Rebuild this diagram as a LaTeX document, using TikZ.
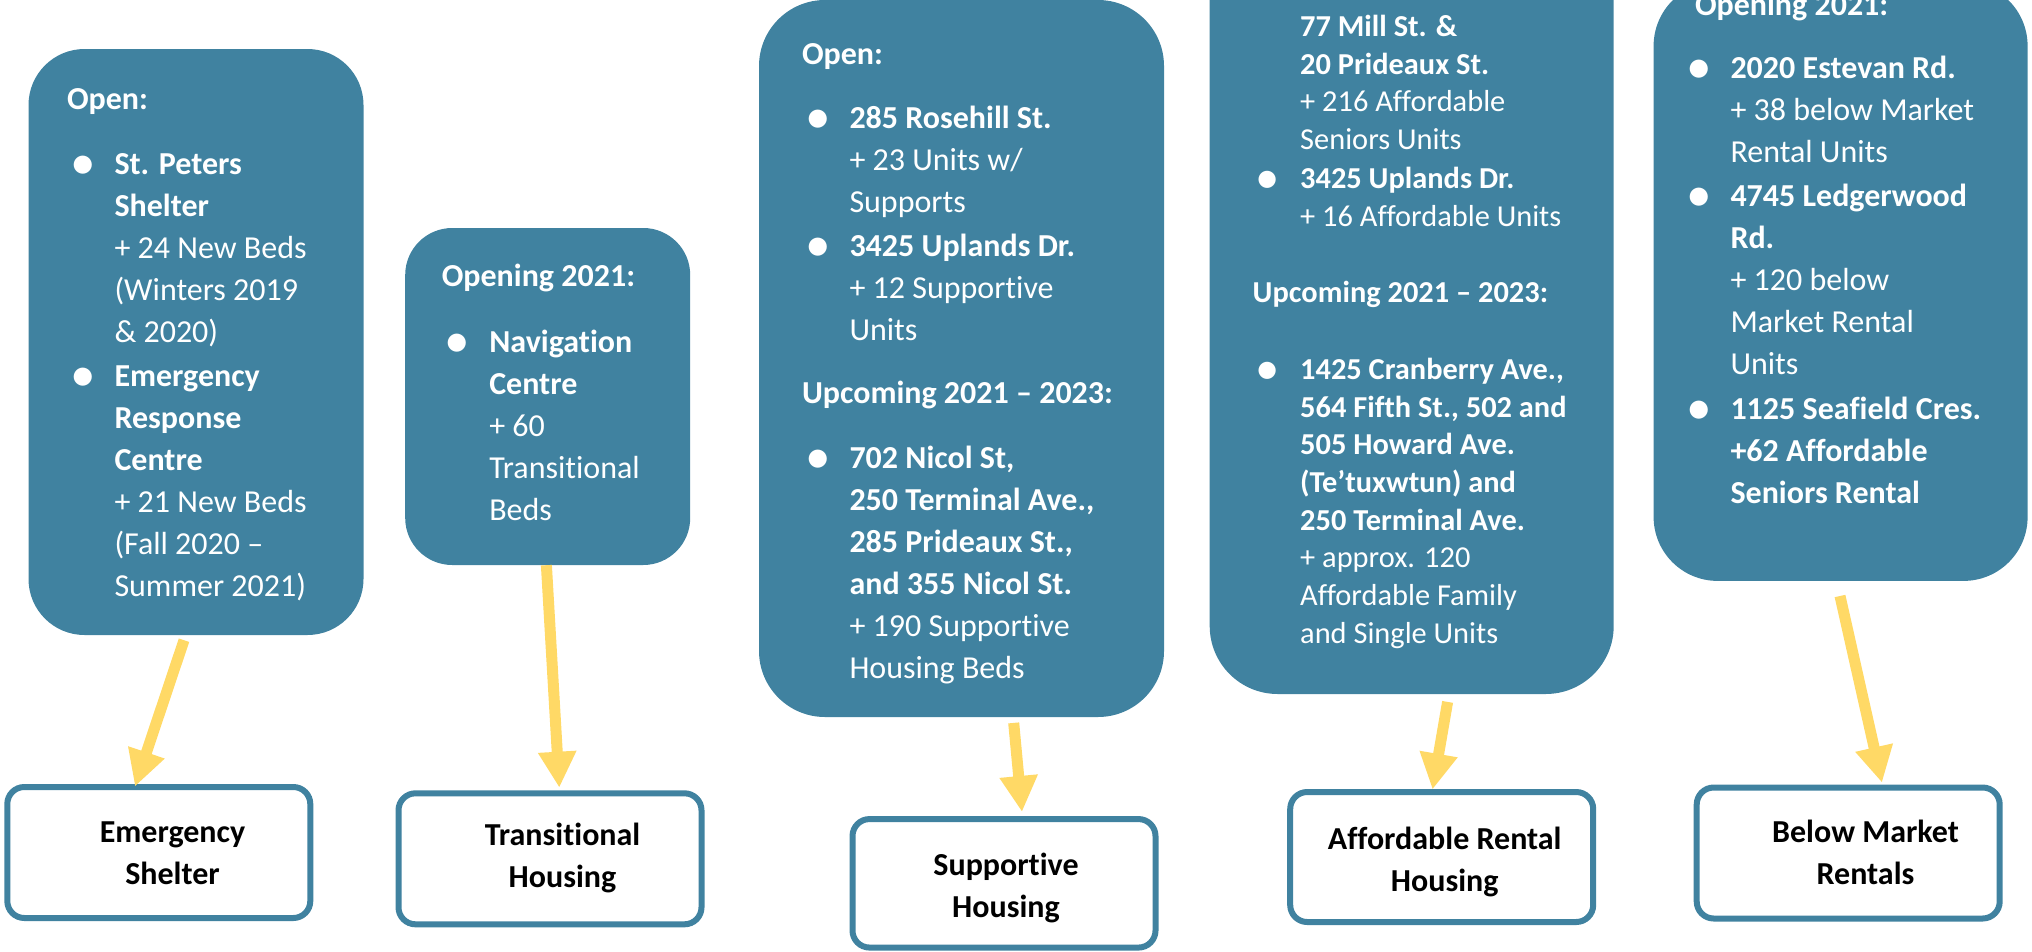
\documentclass[tikz,border=0pt]{standalone}
\usepackage{fontspec}
\setmainfont{Carlito}[Ligatures={TeX,NoCommon}]
\usepackage{graphicx}
\usepackage{tikz}
\usetikzlibrary{positioning, calc}
\usetikzlibrary{arrows.meta}

\definecolor{tealblue}{RGB}{64,130,160}
\definecolor{arrowgold}{RGB}{255,217,102}

\newlength{\bulind}
\setlength{\bulind}{47.5pt}
\newcommand{\bul}{\makebox[\bulind][l]{\hspace{3pt}\raisebox{-5pt}{\scalebox{1.6}{\textbullet}}}}
\newcommand{\ind}{\hspace*{\bulind}}

\begin{document}
\begin{tikzpicture}[x=1pt, y=-1pt,
		tealbox/.style={fill=tealblue, inner sep=0pt},
		listtext/.style={text=white, align=left, inner sep=0pt, font=\fontsize{32}{42}\selectfont},
		typebox/.style={draw=tealblue, line width=6pt, fill=white, rounded corners=17pt, minimum width=303pt, minimum height=131pt},
		typetext/.style={align=center, inner sep=0pt, font=\fontsize{32}{42}\selectfont\bfseries},
		feed/.style={draw=arrowgold, line width=11pt, -{Triangle[length=36pt, width=36pt]}}]
		\useasboundingbox (0,0) rectangle (2032,951);
		\clip (0,0) rectangle (2032,951);
		
		% Project boxes
		\node[tealbox, minimum width=335pt, minimum height=586pt, rounded corners=56pt] (t1) at (196,342) {};
		\node[tealbox, minimum width=285pt, minimum height=337pt, rounded corners=47pt] (t2) at (547.7,396.5) {};
		\node[tealbox, minimum width=405pt, minimum height=717pt, rounded corners=66pt] (t3) at (961.5,358.5) {};
		\node[tealbox, minimum width=404pt, minimum height=850pt, rounded corners=68pt] (t4) at (1411.7,269) {};
		\node[tealbox, minimum width=374pt, minimum height=599pt, rounded corners=64pt] (t5) at (1840.6,281.4) {};
		
		% Project lists
		\node[listtext, below right=30.9pt and 38.5pt of t1.north west] (t1-list) {\strut\textbf{Open:}\\[23pt]
			\bul\textbf{St. Peters}\\
			\ind\textbf{Shelter}\\
			\ind + 24 New Beds\\
			\ind (Winters 2019\\
			\ind \& 2020)\\[2pt]
			\bul\textbf{Emergency}\\
			\ind\textbf{Response}\\
			\ind\textbf{Centre}\\
			\ind + 21 New Beds\\
			\ind (Fall 2020 –\\
			\ind Summer 2021)};
		\node[listtext, below right=28.6pt and 36.6pt of t2.north west] (t2-list) {\strut\textbf{Opening 2021:}\\[24pt]
			\bul\textbf{Navigation}\\
			\ind\textbf{Centre}\\
			\ind + 60\\
			\ind Transitional\\
			\ind Beds};
		\node[listtext, below right=34.9pt and 43pt of t3.north west] (t3-list) {\strut\textbf{Open:}\\[22pt]
			\bul\textbf{285 Rosehill St.}\\
			\ind + 23 Units w/\\
			\ind Supports\\[2.5pt]
			\bul\textbf{3425 Uplands Dr.}\\
			\ind + 12 Supportive\\
			\ind Units\\[21pt]
			\textbf{Upcoming 2021 – 2023:}\\[23pt]
			\bul\textbf{702 Nicol St,}\\
			\ind\textbf{250 Terminal Ave.,}\\
			\ind\textbf{285 Prideaux St.,}\\
			\ind\textbf{and 355 Nicol St.}\\
			\ind + 190 Supportive\\
			\ind Housing Beds};
		\node[listtext, font=\fontsize{30.4}{37.7}\selectfont, below right=166pt and 43pt of t4.north west] (t4-list) {\strut\ind\textbf{77 Mill St. \&}\\
			\ind\textbf{20 Prideaux St.}\\
			\ind + 216 Affordable\\
			\ind Seniors Units\\[1.5pt]
			\bul\textbf{3425 Uplands Dr.}\\
			\ind + 16 Affordable Units\\[38.5pt]
			\textbf{Upcoming 2021 – 2023:}\\[39pt]
			\bul\textbf{1425 Cranberry Ave.,}\\
			\ind\textbf{564 Fifth St., 502 and}\\
			\ind\textbf{505 Howard Ave.}\\
			\ind\textbf{(Te’tuxwtun) and}\\
			\ind\textbf{250 Terminal Ave.}\\
			\ind + approx. 120\\
			\ind Affordable Family\\
			\ind and Single Units};
		\node[listtext, below right=4.5pt and 29.4pt of t5.north west] (t5-list) {\strut\hspace*{12pt}\textbf{Opening 2021:}\\[20.5pt]
			\bul\textbf{2020 Estevan Rd.}\\
			\ind + 38 below Market\\
			\ind Rental Units\\[2.5pt]
			\bul\textbf{4745 Ledgerwood}\\
			\ind\textbf{Rd.}\\
			\ind + 120 below\\
			\ind Market Rental\\
			\ind Units\\[2.5pt]
			\bul\textbf{1125 Seafield Cres.}\\
			\ind\textbf{+62 Affordable}\\
			\ind\textbf{Seniors Rental}};
		
		% Housing types
		\node[typebox] (es) at (158.8,852.5) {};
		\node[typebox] (th) at (550,858.8) {};
		\node[typebox, minimum height=128.5pt] (sh) at (1004,883.3) {};
		\node[typebox, minimum height=130pt] (arh) at (1441.7,857) {};
		\node[typebox] (bmr) at (1848.2,853) {};
		\node[typetext] (es-txt) at ($(es.center)+(13.7,2.1)$) {\strut Emergency\\Shelter\strut};
		\node[typetext] (th-txt) at ($(th.center)+(12.5,-0.8)$) {\strut Transitional\\Housing\strut};
		\node[typetext] (sh-txt) at ($(sh.center)+(2,4.3)$) {\strut Supportive\\Housing\strut};
		\node[typetext] (arh-txt) at ($(arh.center)+(3,5)$) {\strut Affordable Rental\\Housing\strut};
		\node[typetext] (bmr-txt) at ($(bmr.center)+(17.3,2.3)$) {\strut Below Market\\Rentals\strut};
		
		% Arrows down to the types
		\draw[feed] ([shift={(-12,5)}]t1.south) -- ([shift={(-23.8,2.5)}]es.north);
		\draw[feed] ([shift={(-1.3,0)}]t2.south) -- ([shift={(9.3,-2.6)}]th.north);
		\draw[feed] ([shift={(52.2,5.7)}]t3.south) -- ([shift={(18,-4.1)}]sh.north);
		\draw[feed] ([shift={(35.9,7.7)}]t4.south) -- ([shift={(-9.2,0.5)}]arh.north);
		\draw[feed] ([shift={(-0.6,14.9)}]t5.south) -- ([shift={(33.8,-1.8)}]bmr.north);
	\end{tikzpicture}
\end{document}
